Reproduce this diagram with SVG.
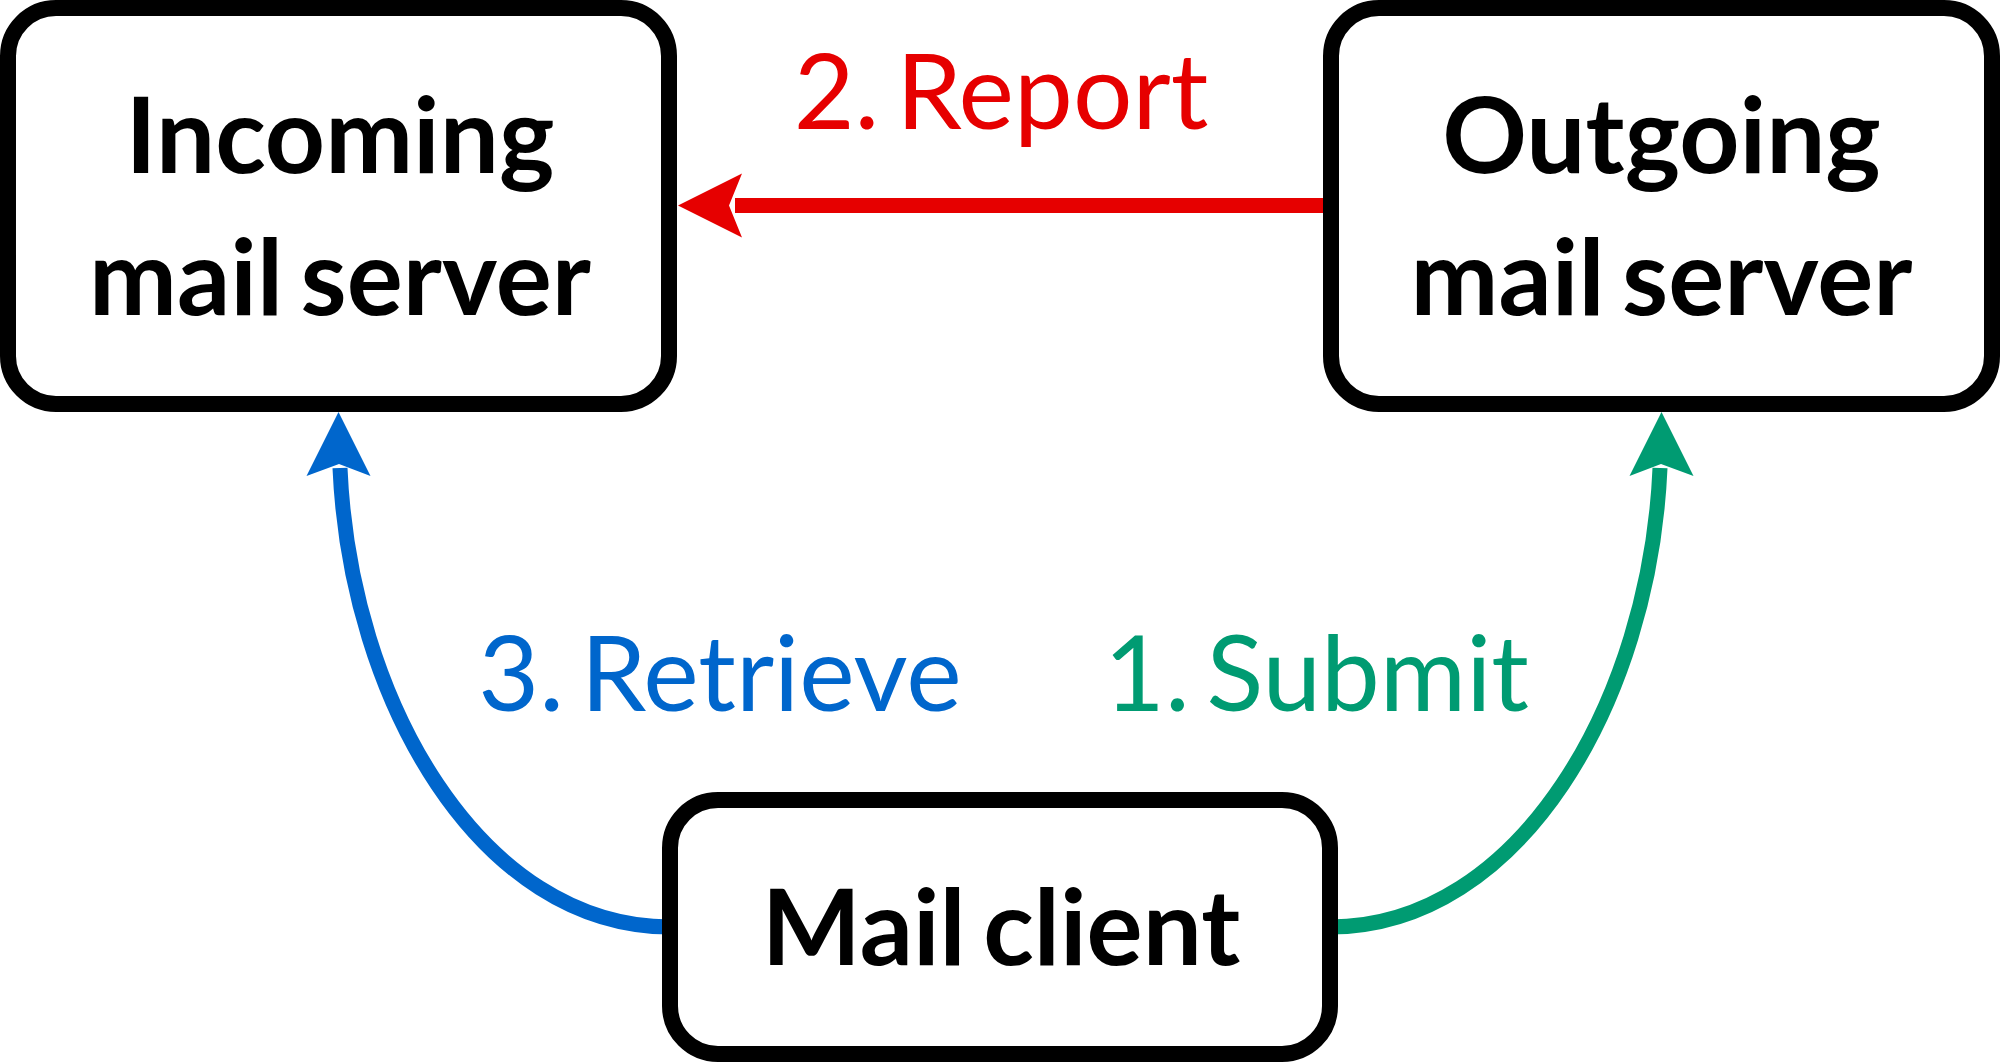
<svg xmlns="http://www.w3.org/2000/svg" width="2000" height="1062" viewBox="0 0 2000 1062">
<style>
.box{fill:#fff;stroke:#000;stroke-width:16}
.nt{font-family:Lato,"Liberation Sans",sans-serif;font-weight:bold;font-size:105px;fill:#000;text-anchor:middle;word-spacing:-8px}
.lbl{font-family:Lato,"Liberation Sans",sans-serif;font-size:105px;text-anchor:middle;word-spacing:-10px}
.ln{fill:none;stroke-width:15}
</style>
<rect width="2000" height="1062" fill="#fff"/>
<g id="connectors">
<g id="report">
<line class="ln" x1="1323" y1="205.5" x2="735" y2="205.5" stroke="#E60000"/>
<polygon points="678,205.5 742,173.5 729,205.5 742,237.5" fill="#E60000"/>
<text class="lbl" x="1001" y="129" fill="#E60000">2. Report</text>
</g>
<g id="retrieve">
<path class="ln" d="M670,927 C480,927 350,700 340,468" stroke="#0066CC"/>
<polygon points="338.5,412 370.5,476 339,464 306.5,476" fill="#0066CC"/>
<text class="lbl" x="720" y="711" fill="#0066CC">3. Retrieve</text>
</g>
<g id="submit">
<path class="ln" d="M1330,927 C1520,927 1650,700 1660,468" stroke="#009B72"/>
<polygon points="1661.5,412 1693.5,476 1661,464 1629.5,476" fill="#009B72"/>
<text class="lbl" x="1316.5" y="711" fill="#009B72">1. Submit</text>
</g>
</g>
<g id="incoming">
<rect class="box" x="8" y="8" width="661" height="396" rx="48"/>
<text class="nt" x="340" y="173">Incoming</text>
<text class="nt" x="340" y="315">mail server</text>
</g>
<g id="outgoing">
<rect class="box" x="1331" y="8" width="661" height="396" rx="48"/>
<text class="nt" x="1661.5" y="173">Outgoing</text>
<text class="nt" x="1661.5" y="315">mail server</text>
</g>
<g id="client">
<rect class="box" x="670" y="800" width="660" height="254" rx="48"/>
<text class="nt" x="1001" y="965">Mail client</text>
</g>
</svg>
